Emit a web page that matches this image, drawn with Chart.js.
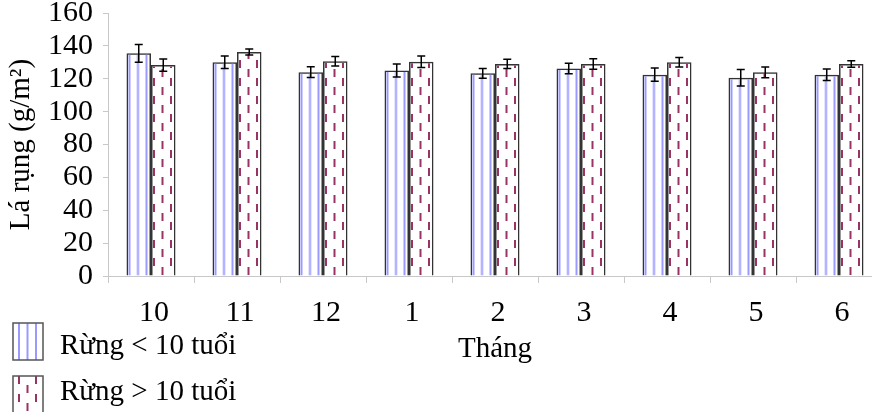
<!DOCTYPE html>
<html>
<head>
<meta charset="utf-8">
<script src="https://cdn.jsdelivr.net/npm/chart.js@4/dist/chart.umd.min.js"></script>
<style>
  html, body { margin: 0; padding: 0; overflow: hidden; background: #fff; }
  canvas { display: block; }
</style>
</head>
<body>
<canvas id="chart" width="882" height="412"></canvas>
<script>
// Monthly leaf litter (g/m²) for two forest age classes, with error margins
const months = ['10', '11', '12', '1', '2', '3', '4', '5', '6'];
const seriesNames = ['Rừng < 10 tuổi', 'Rừng > 10 tuổi'];
const youngForest    = [135.5, 130.0, 124.0, 125.0, 123.3, 126.3, 122.5, 120.6, 122.5];
const youngForestErr = [5.4, 3.8, 3.3, 4.0, 3.0, 3.2, 4.0, 5.0, 3.5];
const oldForest      = [128.3, 136.3, 130.6, 130.3, 129.0, 129.0, 130.0, 123.9, 129.0];
const oldForestErr   = [3.7, 1.8, 2.9, 3.5, 2.8, 3.2, 2.9, 3.3, 2.0];
const yMin = 0, yMax = 160, yStep = 20;

const SERIF = "'Liberation Serif', 'Times New Roman', serif";
const CAT_PCT = 0.57;

const canvas = document.getElementById('chart');
const ctx = canvas.getContext('2d');

// Fill tiles: vertical blue stripes and staggered plum dashes
function stripeTile() {
  const c = document.createElement('canvas');
  c.width = 25; c.height = 4;
  const g = c.getContext('2d');
  g.fillStyle = '#9999ff';
  [2, 10.5, 19].forEach(x => g.fillRect(x, 0, 2, 4));
  return c;
}
function dashTile() {
  const c = document.createElement('canvas');
  c.width = 25; c.height = 18;
  const g = c.getContext('2d');
  g.fillStyle = '#993366';
  g.fillRect(2, 0, 2, 8);
  g.fillRect(10.5, 9, 2, 8);
  g.fillRect(19, 0, 2, 8);
  return c;
}
const tiles = [stripeTile(), dashTile()];

function patternAt(tile, x0, y0) {
  const p = ctx.createPattern(tile, 'repeat');
  p.setTransform(new DOMMatrix().translate(x0, y0));
  return p;
}

// Anchor each bar's fill pattern to the bar's own left edge
function barFill(side) {
  return (c) => {
    const chart = c.chart;
    const xs = chart.scales && chart.scales.x;
    if (c.type !== 'data' || !xs || !chart.chartArea) return '#ffffff';
    const center = xs.getPixelForValue(c.dataIndex);
    const bw = xs.width / months.length * CAT_PCT / 2;
    const left = side === 0 ? center - bw : center;
    return patternAt(tiles[side], left, chart.chartArea.bottom);
  };
}

const errorBars = {
  id: 'errorBars',
  afterDatasetsDraw(chart) {
    const { ctx, scales: { y } } = chart;
    ctx.save();
    ctx.strokeStyle = '#000';
    ctx.lineWidth = 1.5;
    chart.data.datasets.forEach((ds, di) => {
      chart.getDatasetMeta(di).data.forEach((bar, i) => {
        const v = ds.data[i], e = ds.errors[i];
        const yt = y.getPixelForValue(v + e), yb = y.getPixelForValue(v - e);
        ctx.beginPath();
        ctx.moveTo(bar.x, yt); ctx.lineTo(bar.x, yb);
        ctx.moveTo(bar.x - 4, yt); ctx.lineTo(bar.x + 4, yt);
        ctx.moveTo(bar.x - 4, yb); ctx.lineTo(bar.x + 4, yb);
        ctx.stroke();
      });
    });
    ctx.restore();
  }
};

// Stacked legend in the lower-left corner
const cornerLegend = {
  id: 'cornerLegend',
  afterDraw(chart) {
    const { ctx } = chart;
    ctx.save();
    chart.data.datasets.forEach((ds, i) => {
      const bx = 13, by = 323 + 53 * i, bw = 30, bh = 37;
      ctx.fillStyle = '#fff';
      ctx.fillRect(bx, by, bw, bh);
      ctx.fillStyle = patternAt(tiles[i], bx + 3, by);
      ctx.fillRect(bx, by, bw, bh);
      ctx.strokeStyle = '#555';
      ctx.lineWidth = 1.5;
      ctx.strokeRect(bx, by, bw, bh);
      ctx.fillStyle = '#000';
      ctx.font = '29px ' + SERIF;
      ctx.textBaseline = 'alphabetic';
      ctx.textAlign = 'left';
      ctx.fillText(ds.label, 60, 354 + 46 * i);
    });
    ctx.restore();
  }
};

const axisGray = '#c8c8c8';
const tickFont = { family: SERIF, size: 30 };
const titleFont = { family: SERIF, size: 29 };

new Chart(canvas, {
  type: 'bar',
  data: {
    labels: months,
    datasets: [
      { label: seriesNames[0], data: youngForest, errors: youngForestErr,
        backgroundColor: barFill(0), borderColor: '#333', borderWidth: 1.5 },
      { label: seriesNames[1], data: oldForest, errors: oldForestErr,
        backgroundColor: barFill(1), borderColor: '#333', borderWidth: 1.5 }
    ]
  },
  options: {
    responsive: false,
    animation: false,
    devicePixelRatio: 1,
    categoryPercentage: CAT_PCT,
    barPercentage: 1.0,
    layout: { padding: { top: 13, left: 0, right: 0, bottom: 0 } },
    plugins: { legend: { display: false }, tooltip: { enabled: false } },
    scales: {
      x: {
        grid: { display: true, drawOnChartArea: false, drawTicks: true, tickLength: 7, color: axisGray, offset: true },
        border: { display: true, color: axisGray },
        ticks: { color: '#000', font: tickFont, padding: 12, labelOffset: 3, maxRotation: 0, autoSkip: false },
        title: { display: true, text: 'Tháng', color: '#000', font: titleFont, padding: { top: 0, bottom: 45 } },
        afterFit(s) { s.height = 136; s.paddingLeft = 0; s.paddingRight = 0; }
      },
      y: {
        min: yMin, max: yMax,
        grid: { display: true, drawOnChartArea: false, drawTicks: true, tickLength: 5, color: axisGray },
        border: { display: true, color: axisGray },
        ticks: { stepSize: yStep, autoSkip: false, color: '#000', font: tickFont, padding: 10 },
        title: { display: true, text: 'Lá rụng (g/m²)', color: '#000', font: titleFont, padding: { top: 4, bottom: 0 } },
        afterFit(s) { s.width = 108; s.paddingTop = 0; s.paddingBottom = 0; }
      }
    }
  },
  plugins: [errorBars, cornerLegend]
});
</script>
</body>
</html>
